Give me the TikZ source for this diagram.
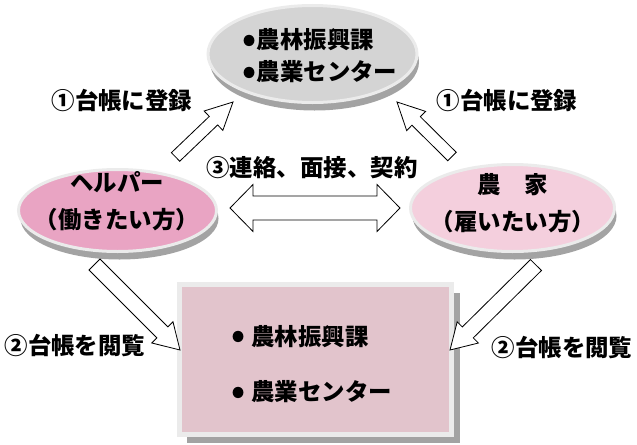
\documentclass[tikz,border=0pt]{standalone}
\usepackage{fontspec}
\usepackage{xcolor}
\usepackage{tikz}
\usetikzlibrary{shapes,shadows,positioning,calc}
\newfontfamily\jpfont{Noto Sans CJK JP}
\newcommand\dotmark{{\fontsize{30pt}{0pt}\selectfont\raisebox{-2.5pt}{•}}}

\definecolor{ringgray}{HTML}{EBEBEB}
\definecolor{shadegray}{HTML}{A3A3A3}
\definecolor{officegray}{HTML}{D4D4D4}
\definecolor{helperpink}{HTML}{E9A4C3}
\definecolor{farmpink}{HTML}{F4CFDD}
\definecolor{boxpink}{HTML}{E2C4CC}

\begin{document}
\begin{tikzpicture}[x=0.03cm, y=-0.03cm,
    blob/.style={ellipse, draw=ringgray, line width=0.09cm, inner sep=0pt,
        drop shadow={shadow xshift=0.06cm, shadow yshift=-0.24cm, fill=shadegray, opacity=1}},
    txt/.style={font=\jpfont\bfseries\fontsize{20pt}{27.3pt}\selectfont, inner sep=0pt},
    fatarrow/.style n args={3}{draw, fill=white, line width=0.7pt,
        to path={let \p1=($(\tikztotarget)-(\tikztostart)$), \n1={veclen(\x1,\y1)}, \n2={atan2(\y1,\x1)} in
            ($(\tikztostart)+(\n2+90:#1)$) -- ++(\n2:{\n1-#3}) -- ++(\n2+90:{#2-#1})
            -- (\tikztotarget) -- ($(\tikztotarget)+(\n2+180:#3)+(\n2-90:#2)$)
            -- ++(\n2+90:{#2-#1}) -- ++(\n2+180:{\n1-#3}) -- cycle}},
    dblarrow/.style n args={3}{draw, fill=white, line width=0.7pt,
        to path={let \p1=($(\tikztotarget)-(\tikztostart)$), \n1={veclen(\x1,\y1)}, \n2={atan2(\y1,\x1)} in
            (\tikztostart) -- ($(\tikztostart)+(\n2:#3)+(\n2+90:#2)$) -- ++(\n2-90:{#2-#1})
            -- ++(\n2:{\n1-2*#3}) -- ++(\n2+90:{#2-#1}) -- (\tikztotarget)
            -- ($(\tikztotarget)+(\n2+180:#3)+(\n2-90:#2)$) -- ++(\n2+90:{#2-#1})
            -- ++(\n2+180:{\n1-2*#3}) -- ++(\n2-90:{#2-#1}) -- cycle}}]
    \useasboundingbox (0,0) rectangle (637,445);

    % Office on top
    \node[blob, fill=officegray, minimum width=6.27cm, minimum height=2.91cm] (office) at (312.5,54) {};
    \node[txt, align=left] (officetxt) at (320,56) {\dotmark 農林振興課\\\dotmark 農業センター};

    % Helper and farmer
    \node[blob, fill=helperpink, minimum width=5.94cm, minimum height=2.46cm] (helper) at (117.5,210.5) {};
    \node[txt, align=center] (helpertxt) at (117,201) {ヘルパー\\[4.3pt]（働きたい方）};
    \node[blob, fill=farmpink, minimum width=6.12cm, minimum height=2.61cm] (farm) at (512.5,208) {};
    \node[txt, align=center] (farmtxt) at (513,203) {農　家\\[4.3pt]（雇いたい方）};

    % Register box
    \node[draw=ringgray, fill=boxpink, line width=0.15cm, minimum width=8.16cm, minimum height=4.5cm,
        drop shadow={shadow xshift=0.24cm, shadow yshift=-0.24cm, fill=shadegray, opacity=1}] (ledger) at (315.5,359.5) {};
    \node[txt, align=left] (ledgertxt) at (312,364) {\dotmark\ 農林振興課\\[19.7pt]\dotmark\ 農業センター};

    % Labels
    \node[txt] (regL) at (122,100) {①台帳に登録};
    \node[txt] (regR) at (507,100) {①台帳に登録};
    \node[txt] (meet) at (312,168) {③連絡、面接、契約};
    \node[txt] (viewL) at (75,345) {②台帳を閲覧};
    \node[txt] (viewR) at (562,347) {②台帳を閲覧};

    % Arrow ends
    \coordinate (hUp) at (175.5,157);   \coordinate (oL) at (233,102);
    \coordinate (fUp) at (452,156.5);   \coordinate (oR) at (397,102);
    \coordinate (hDn) at (94.5,264.5);  \coordinate (bL) at (180,350);
    \coordinate (fDn) at (536,265);     \coordinate (bR) at (450,350);
    \coordinate (mL) at (230,208);      \coordinate (mR) at (400,208);

    \draw[fatarrow={5.1pt}{11.5pt}{23pt}] (hUp) to (oL);
    \draw[fatarrow={5.1pt}{11.5pt}{23pt}] (fUp) to (oR);
    \draw[fatarrow={6.6pt}{12.8pt}{21.3pt}] (hDn) to (bL);
    \draw[fatarrow={6.6pt}{12.8pt}{21.3pt}] (fDn) to (bR);
    \draw[dblarrow={10.2pt}{20pt}{19.6pt}] (mL) to (mR);
\end{tikzpicture}
\end{document}
